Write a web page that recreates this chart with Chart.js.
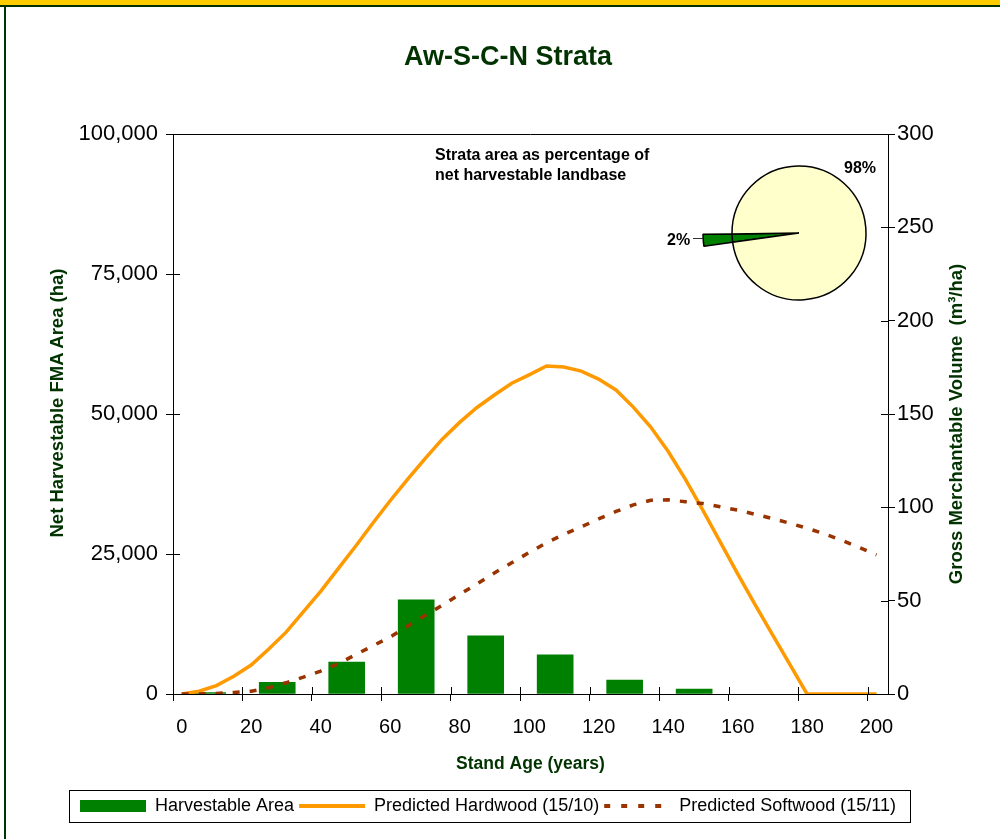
<!DOCTYPE html>
<html>
<head>
<meta charset="utf-8">
<script src="https://cdn.jsdelivr.net/npm/chart.js@4.4.0/dist/chart.umd.min.js"></script>
<style>
  html, body { margin: 0; padding: 0; background: #fff; }
  body { width: 1000px; height: 839px; position: relative; overflow: hidden; font-family: "Liberation Sans", Arial, sans-serif; }
  #topband { position: absolute; left: 0; top: 0; width: 1000px; height: 5px; background: #FFCC00; border-bottom: 2px solid #003300; }
  #leftline { position: absolute; left: 4px; top: 5px; width: 2px; height: 834px; background: #003300; }
  #main { position: absolute; left: 0; top: 0; }
  #pie { position: absolute; left: 689px; top: 123px; }
  .txt { position: absolute; white-space: nowrap; font-weight: bold; }
  #title { left: 308px; top: 40px; width: 400px; text-align: center; font-size: 27px; line-height: 32px; color: #003300; }
  #note { left: 435px; top: 145px; font-size: 16px; line-height: 20px; color: #000; }
  #p98 { left: 844px; top: 158px; font-size: 16px; line-height: 20px; color: #000; }
  #p2 { left: 667px; top: 230px; font-size: 16px; line-height: 20px; color: #000; }
  #leader { position: absolute; left: 693px; top: 238px; width: 10px; height: 1px; background: #333; }
  .ytitle { width: 400px; text-align: center; font-size: 18.5px; line-height: 22px; color: #003300; transform: rotate(-90deg); }
  #yl { left: -143px; top: 392px; }
  #yr { left: 756px; top: 413px; }
</style>
</head>
<body>
<div id="topband"></div>
<div id="leftline"></div>
<canvas id="main" width="1000" height="839"></canvas>
<canvas id="pie" width="220" height="220"></canvas>
<div id="title" class="txt">Aw-S-C-N Strata</div>
<div id="note" class="txt">Strata area as percentage of<br>net harvestable landbase</div>
<div id="p98" class="txt">98%</div>
<div id="p2" class="txt">2%</div>
<div id="leader"></div>
<div id="yl" class="txt ytitle">Net Harvestable FMA Area (ha)</div>
<div id="yr" class="txt ytitle">Gross Merchantable Volume&nbsp;&nbsp;(m³/ha)</div>
<script>
// stand age (years) for the yield curves
const ages = [0, 5, 10, 15, 20, 25, 30, 35, 40, 45, 50, 55, 60, 65, 70, 75, 80, 85, 90, 95, 100,
  105, 110, 115, 120, 125, 130, 135, 140, 145, 150, 155, 160, 165, 170, 175, 180, 185, 190, 195, 200];
// gross merchantable volume m3/ha
const hardwood = [0, 1.5, 4.5, 9.5, 15.5, 24, 33, 44, 55, 67, 79, 91.5, 103.5, 115, 126, 136.5, 145.5, 153.5, 160.2, 166.5, 171,
  175.7, 175.2, 173, 168.7, 162.9, 153.7, 143, 130, 115, 98.5, 81.5, 64.5, 48, 32, 16, 0, 0, 0, 0, 0];
const softwood = [0, 0, 0.3, 0.8, 1.5, 3.3, 6, 9, 12.3, 16.2, 21, 25.8, 30.5, 36.3, 42, 47.5, 53.3, 59, 64.8, 70.3, 75.8,
  81, 85.5, 89.5, 93.8, 97.8, 101.3, 103.8, 104, 103, 102, 100.3, 98.5, 96.3, 94, 91.5, 88.8, 85.8, 82.3, 78.5, 74.5];
// harvestable area (ha) by 20 year age class
const classAges = [7.5, 27.5, 47.5, 67.5, 87.5, 107.5, 127.5, 147.5];
const harvestArea = [250, 2100, 5700, 16800, 10400, 7000, 2500, 900];
// axis ticks
const ageTicks = [0, 20, 40, 60, 80, 100, 120, 140, 160, 180, 200];
const areaTicks = [0, 25000, 50000, 75000, 100000];
const volTicks = [0, 50, 100, 150, 200, 250, 300];
const tickShift = 2.5; // excel puts the tick marks a bit left of the labels
// pie: strata share of landbase
const pieLabels = ['Aw-S-C-N', 'Other'];
const pieShares = [2, 98];

const GREEN = '#008000', ORANGE = '#FF9900', BROWN = '#993300', CREAM = '#FFFFCC';
const PAD_BOTTOM = 14;

const legendItems = [
  { text: 'Harvestable Area', fillStyle: GREEN, strokeStyle: GREEN, lineWidth: 0, pointStyle: 'rect', hidden: false, datasetIndex: 0 },
  { text: 'Predicted Hardwood (15/10)', fillStyle: ORANGE, strokeStyle: ORANGE, lineWidth: 4, pointStyle: 'line', hidden: false, datasetIndex: 1 },
  { text: 'Predicted Softwood (15/11)', fillStyle: BROWN, strokeStyle: BROWN, lineWidth: 4, lineDash: [6, 11], pointStyle: 'line', hidden: false, datasetIndex: 2 }
];

// top border of the plot, inner half of the cross tick marks, box round the legend
const frame = {
  id: 'frame',
  afterDraw(chart) {
    const { ctx, chartArea: a, scales } = chart;
    ctx.save();
    ctx.strokeStyle = '#000';
    ctx.lineWidth = 1;
    ctx.beginPath();
    ctx.moveTo(a.left, a.top + 0.5);
    ctx.lineTo(a.right, a.top + 0.5);
    scales.x.ticks.forEach(t => {
      const p = Math.round(scales.x.getPixelForValue(t.value)) + 0.5;
      ctx.moveTo(p, a.bottom);
      ctx.lineTo(p, a.bottom - 7);
    });
    scales.y.ticks.forEach(t => {
      const p = Math.round(scales.y.getPixelForValue(t.value)) + 0.5;
      ctx.moveTo(a.left, p);
      ctx.lineTo(a.left + 7, p);
    });
    scales.y1.ticks.forEach(t => {
      const p = Math.round(scales.y1.getPixelForValue(t.value)) + 0.5;
      ctx.moveTo(a.right, p);
      ctx.lineTo(a.right - 7, p);
    });
    ctx.stroke();

    const hb = chart.legend.legendHitBoxes;
    if (hb && hb.length) {
      const last = hb[hb.length - 1];
      const x0 = Math.round(hb[0].left - 11) + 0.5;
      const x1 = Math.round(last.left + last.width + 14) + 0.5;
      const y0 = Math.round(hb[0].top - 7) + 0.5;
      const y1 = Math.round(hb[0].top + hb[0].height + 7) + 0.5;
      ctx.strokeRect(x0, y0, x1 - x0, y1 - y0);
    }
    ctx.restore();
  }
};

new Chart(document.getElementById('main'), {
  type: 'bar',
  data: {
    datasets: [
      {
        type: 'bar',
        label: 'Harvestable Area',
        data: classAges.map((a, i) => ({ x: a, y: harvestArea[i] })),
        backgroundColor: GREEN,
        borderWidth: 0,
        barThickness: 36,
        yAxisID: 'y',
        order: 3
      },
      {
        type: 'line',
        label: 'Predicted Hardwood (15/10)',
        data: ages.map((a, i) => ({ x: a, y: hardwood[i] })),
        borderColor: ORANGE,
        borderWidth: 3.5,
        pointRadius: 0,
        tension: 0,
        fill: false,
        yAxisID: 'y1',
        order: 2
      },
      {
        type: 'line',
        label: 'Predicted Softwood (15/11)',
        data: ages.map((a, i) => ({ x: a, y: softwood[i] })),
        borderColor: BROWN,
        borderWidth: 3.5,
        borderDash: [7, 10],
        pointRadius: 0,
        tension: 0,
        fill: false,
        yAxisID: 'y1',
        order: 1
      }
    ]
  },
  options: {
    responsive: false,
    animation: false,
    devicePixelRatio: 1,
    layout: { padding: { top: 134, left: 0, right: 24, bottom: PAD_BOTTOM } },
    font: { family: '"Liberation Sans", Arial, sans-serif' },
    plugins: {
      title: { display: false },
      tooltip: { enabled: false },
      legend: {
        position: 'bottom',
        labels: {
          usePointStyle: true,
          pointStyleWidth: 66,
          boxHeight: 12,
          padding: 5,
          color: '#003300',
          font: { size: 18 },
          generateLabels: () => legendItems
        }
      }
    },
    scales: {
      x: {
        type: 'linear',
        offset: false,
        bounds: 'data',
        min: -tickShift,
        max: 203.3,
        afterBuildTicks: s => { s.ticks = ageTicks.map(v => ({ value: v - tickShift })); },
        afterFit: s => { s.height = 839 - PAD_BOTTOM - s.chart.legend.height - 694; },
        ticks: {
          labelOffset: 8.7,
          padding: 14,
          color: '#000',
          font: { size: 20 },
          callback: v => String(Math.round(v + tickShift))
        },
        grid: { drawOnChartArea: false, offset: false, tickLength: 7, color: '#000' },
        border: { color: '#000' },
        title: {
          display: true,
          text: 'Stand Age (years)',
          color: '#003300',
          font: { size: 17.5, weight: 'bold' },
          padding: { top: 0, bottom: 17 }
        }
      },
      y: {
        position: 'left',
        min: 0,
        max: 100000,
        afterBuildTicks: s => { s.ticks = areaTicks.map(v => ({ value: v })); },
        afterFit: s => { s.width = 173; },
        ticks: {
          padding: 8,
          color: '#000',
          font: { size: 22 },
          callback: v => v.toLocaleString('en-US')
        },
        grid: { drawOnChartArea: false, tickLength: 7, color: '#000' },
        border: { color: '#000' }
      },
      y1: {
        position: 'right',
        min: 0,
        max: 300,
        afterBuildTicks: s => { s.ticks = volTicks.map(v => ({ value: v })); },
        afterFit: s => { s.width = 88; },
        ticks: { padding: 2, color: '#000', font: { size: 22 } },
        grid: { drawOnChartArea: false, tickLength: 7, color: '#000' },
        border: { color: '#000' }
      }
    }
  },
  plugins: [frame]
});

new Chart(document.getElementById('pie'), {
  type: 'pie',
  data: {
    labels: pieLabels,
    datasets: [
      {
        data: pieShares,
        weight: 29,
        backgroundColor: [GREEN, 'rgba(0,0,0,0)'],
        borderColor: ['#000', 'rgba(0,0,0,0)'],
        borderWidth: [1.5, 0]
      },
      {
        data: pieShares,
        weight: 67,
        backgroundColor: [GREEN, CREAM],
        borderColor: '#000',
        borderWidth: 1.5
      }
    ]
  },
  options: {
    responsive: false,
    animation: false,
    devicePixelRatio: 1,
    radius: 96,
    rotation: 262,
    plugins: { legend: { display: false }, tooltip: { enabled: false } }
  }
});
</script>
</body>
</html>
